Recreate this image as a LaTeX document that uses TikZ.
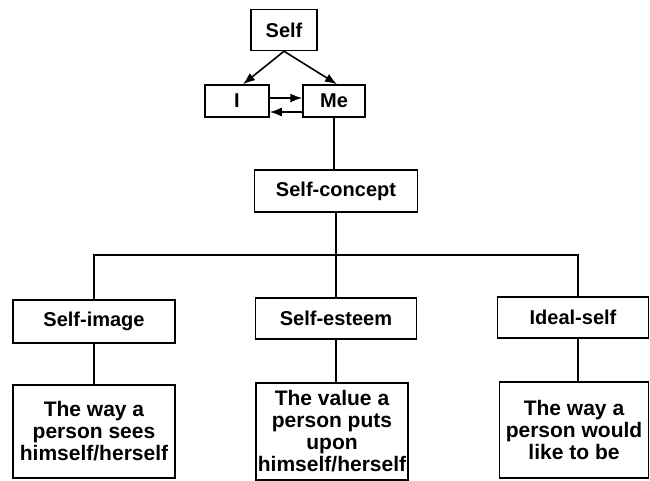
\documentclass[tikz,border=0pt]{standalone}
\usepackage{fontspec}
\setmainfont{Liberation Sans}
\usetikzlibrary{arrows.meta}
\tikzset{
  box/.style={draw, line width=1.5pt, rectangle, inner sep=0pt, align=center,
    font=\fontsize{20}{21}\selectfont\bfseries},
  desc/.style={box, font=\fontsize{21}{22}\selectfont\bfseries},
  link/.style={line width=1.6pt},
  arr/.style={line width=1.6pt, -{Latex[length=12pt,width=9pt]}},
}
\begin{document}
\begin{tikzpicture}[x=1pt,y=-1pt]
\useasboundingbox[fill=white] (0,0) rectangle (650,481);
\node[box, minimum width=66pt, minimum height=41pt] (self) at (284,30) {Self};
\node[box, minimum width=64pt, minimum height=32pt] (i) at (237,101) {I};
\node[box, minimum width=62pt, minimum height=32pt] (me) at (334,101) {Me};
\node[box, minimum width=163pt, minimum height=42pt] (sc) at (336,191) {Self-concept};
\node[box, minimum width=162pt, minimum height=43pt] (si) at (94,321.5) {Self-image};
\node[box, minimum width=161pt, minimum height=41pt] (se) at (336,318.5) {Self-esteem};
\node[box, minimum width=151pt, minimum height=41pt] (is) at (573,317.5) {Ideal-self};
\node[desc, minimum width=162pt, minimum height=93pt] (d1) at (94,431.5) {The way a\\person sees\\himself/herself};
\node[desc, minimum width=152pt, minimum height=97pt] (d2) at (332,431.5) {The value a\\person puts\\upon\\himself/herself};
\node[desc, minimum width=149pt, minimum height=96pt] (d3) at (574,430) {The way a\\person would\\like to be};
\coordinate (bus) at (0,255);
\coordinate (isTop) at (578,297);
\coordinate (isBot) at (578,338);
\coordinate (d3Top) at (578,382);
% arrows at top
\draw[arr] (self.south) -- ([xshift=6pt]i.north);
\draw[arr] (self.south) -- ([xshift=3pt]me.north);
\draw[arr] ([yshift=3pt]i.east) -- ([yshift=3pt]me.west);
\draw[arr] ([yshift=-11pt]me.west) -- ([yshift=-11pt]i.east);
% tree
\draw[link] (me.south) -- (me.south |- sc.north);
\draw[link] (sc.south) -- (se.north);
\draw[link] (si.north) -- (si.north |- bus) -- (bus -| isTop) -- (isTop);
\draw[link] (si.south) -- (d1.north);
\draw[link] (se.south) -- (se.south |- d2.north);
\draw[link] (isBot) -- (d3Top);
\end{tikzpicture}
\end{document}
